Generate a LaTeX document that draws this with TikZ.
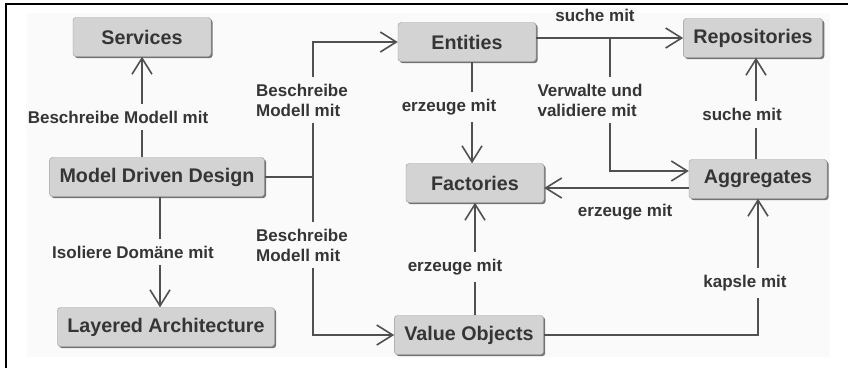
\documentclass[tikz,border=0pt]{standalone}
\usepackage{fontspec}
\setmainfont{Liberation Sans}
\usetikzlibrary{arrows.meta,shadows}

\definecolor{boxgray}{HTML}{D3D3D3}
\definecolor{textgray}{HTML}{353535}
\definecolor{linegray}{HTML}{505050}
\definecolor{panel}{HTML}{FAFAFA}

\tikzset{
  box/.style={draw=black!40, fill=boxgray, rounded corners=3pt,
    text=textgray, font=\fontsize{19.7}{22}\selectfont\bfseries,
    minimum width=138pt, minimum height=39pt, inner xsep=10pt,
    drop shadow={shadow xshift=1.6pt, shadow yshift=-1.6pt,
      fill=black!55, opacity=1}},
  lbl/.style={fill=panel, text=textgray, inner xsep=2pt, inner ysep=7pt,
    font=\fontsize{17}{20}\selectfont\bfseries},
  conn/.style={draw=linegray, line width=1.8pt},
  arr/.style={conn, -{Straight Barb[length=16pt,width=20pt,line width=1.6pt]}}
}

\begin{document}
\begin{tikzpicture}[x=1pt,y=-1pt]

\useasboundingbox (0,0) rectangle (848,368);

% Rahmen
\fill[panel] (27,13) rectangle (830,357);
\draw[line width=1.5pt] (6,368) -- (6,4) -- (848,4);

% Knoten links
\node[box] (services) at (142,37)
{Services};

\node[box] (mdd) at (157,177)
{Model Driven Design};

\node[box] (layered) at (166,327)
{Layered Architecture};

% Knoten Mitte
\node[box] (entities) at (467,42)
{Entities};

\node[box] (factories) at (475,183)
{Factories};

\node[box] (values) at (469,335)
{Value Objects};

% Knoten rechts
\node[box] (repos) at (753,38)
{Repositories};

\node[box] (aggr) at (758,179)
{Aggregates};

% Verbindungen von Model Driven Design
\draw[arr] (mdd.north -| services.south) -- (services.south)
  node[lbl, pos=.4, xshift=-24pt] (l1) {Beschreibe Modell mit};

\draw[arr] ([xshift=3pt]mdd.south) -- ([xshift=3pt]mdd.south |- layered.north)
  node[lbl, pos=.5, xshift=-27pt] (l2) {Isoliere Domäne mit};

\coordinate (split) at (313,177);
\draw[conn] (mdd.east) -- (split);

\draw[arr] (split) |- (entities.west)
  node[lbl, pos=.285, xshift=-11pt, align=left] (l3) {Beschreibe\\Modell mit};

\draw[arr] (split) |- (values.west)
  node[lbl, pos=.215, xshift=-11pt, align=left] (l4) {Beschreibe\\Modell mit};

% Entities
\draw[arr] (repos.west -| entities.east) -- (repos.west)
  node[lbl, pos=.4, yshift=23pt, inner ysep=2pt] (l5) {suche mit};

\coordinate (fork) at (610,38);
\draw[arr] (fork) |- ([yshift=8pt]aggr.west)
  node[lbl, pos=.233, xshift=-20pt, align=left] (l6) {Verwalte und\\validiere mit};

\draw[arr] ([xshift=5pt]entities.south) -- ([xshift=5pt]entities.south |- factories.north)
  node[lbl, pos=.45, xshift=-23pt] (l7) {erzeuge mit};

% Aggregates
\draw[arr] ([yshift=-9pt]aggr.west) -- ([yshift=-9pt]aggr.west -| factories.east)
  node[lbl, pos=.44, yshift=-24pt, inner ysep=2pt] (l8) {erzeuge mit};

\draw[arr] ([xshift=-2pt]aggr.north) -- ([xshift=-2pt]aggr.north |- repos.south)
  node[lbl, pos=.44, xshift=-14pt] (l9) {suche mit};

% Value Objects
\draw[arr] (values.north -| factories.south) -- (factories.south)
  node[lbl, pos=.43, xshift=-20pt] (l10) {erzeuge mit};

\draw[arr] (values.east) -| (aggr.south)
  node[lbl, pos=.69, xshift=-13pt] (l11) {kapsle mit};

\end{tikzpicture}
\end{document}
